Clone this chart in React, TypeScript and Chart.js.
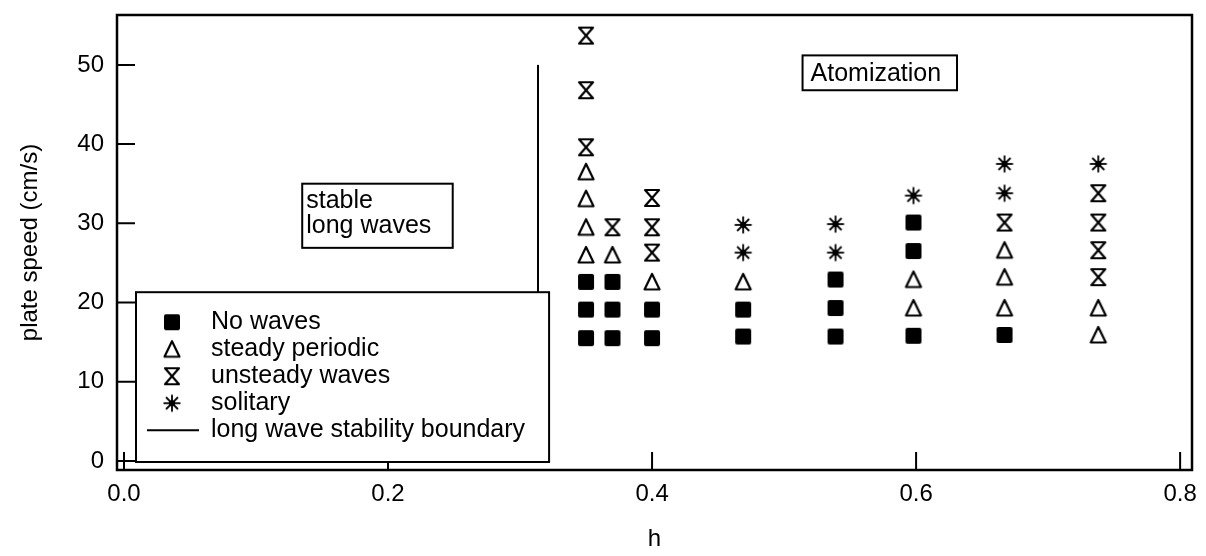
import React, { useEffect, useRef } from "react";
import { Chart, registerables } from "chart.js";

Chart.register(...registerables);

// ---- data (h, plate speed in cm/s) ----
const noWavesH = [0.35, 0.35, 0.35, 0.37, 0.37, 0.37, 0.4, 0.4, 0.469, 0.469, 0.539, 0.539, 0.539, 0.598, 0.598, 0.598, 0.667];
const noWavesSpeed = [15.5, 19.1, 22.6, 15.5, 19.1, 22.6, 15.5, 19.1, 15.7, 19.1, 15.7, 19.3, 22.9, 15.8, 26.5, 30.1, 15.9];

const steadyH = [0.35, 0.35, 0.35, 0.35, 0.37, 0.4, 0.469, 0.598, 0.598, 0.667, 0.667, 0.667, 0.738, 0.738];
const steadySpeed = [26.0, 29.5, 33.1, 36.5, 26.0, 22.6, 22.6, 19.3, 22.9, 19.3, 23.2, 26.6, 15.9, 19.3];

const unsteadyH = [0.35, 0.35, 0.35, 0.37, 0.4, 0.4, 0.4, 0.667, 0.738, 0.738, 0.738, 0.738];
const unsteadySpeed = [39.6, 46.8, 53.7, 29.5, 26.3, 29.5, 33.2, 30.1, 23.2, 26.6, 30.1, 33.8];

const solitaryH = [0.469, 0.469, 0.539, 0.539, 0.598, 0.667, 0.667, 0.738];
const solitarySpeed = [26.3, 29.8, 26.3, 29.9, 33.5, 33.8, 37.5, 37.5];

const boundaryH = [0.3136, 0.3136];
const boundarySpeed = [21.3, 50.0];

const seriesLabels = ["No waves", "steady periodic", "unsteady waves", "solitary", "long wave stability boundary"];
const xTickValues = [0, 0.2, 0.4, 0.6, 0.8];
const yTickValues = [0, 10, 20, 30, 40, 50];
const xTitle = "h";
const yTitle = "plate speed (cm/s)";
const noteStable = ["stable", "long waves"];
const noteAtom = ["Atomization"];

const FONT = "'Liberation Sans', Arial, Helvetica, sans-serif";

function makeMarker(kind: string): HTMLCanvasElement {
  const c = document.createElement("canvas");
  c.width = 24;
  c.height = 24;
  const g = c.getContext("2d") as CanvasRenderingContext2D;
  g.strokeStyle = "#000";
  g.fillStyle = "#000";
  const cx = 12, cy = 12;
  if (kind === "square") {
    g.beginPath();
    if ((g as any).roundRect) (g as any).roundRect(cx - 8, cy - 8, 16, 16, 2);
    else g.rect(cx - 8, cy - 8, 16, 16);
    g.fill();
  } else if (kind === "triangle") {
    g.lineWidth = 2.2;
    g.lineJoin = "round";
    g.beginPath();
    g.moveTo(cx, cy - 8);
    g.lineTo(cx + 7.5, cy + 7.5);
    g.lineTo(cx - 7.5, cy + 7.5);
    g.closePath();
    g.stroke();
  } else if (kind === "hourglass") {
    g.lineWidth = 2.2;
    g.lineJoin = "round";
    g.beginPath();
    g.moveTo(cx - 7, cy - 8);
    g.lineTo(cx + 7, cy - 8);
    g.lineTo(cx - 7, cy + 8);
    g.lineTo(cx + 7, cy + 8);
    g.closePath();
    g.stroke();
  } else if (kind === "asterisk") {
    g.lineWidth = 1.8;
    for (let i = 0; i < 4; i++) {
      const a = (i * Math.PI) / 4;
      g.beginPath();
      g.moveTo(cx - 8.5 * Math.cos(a), cy - 8.5 * Math.sin(a));
      g.lineTo(cx + 8.5 * Math.cos(a), cy + 8.5 * Math.sin(a));
      g.stroke();
    }
    g.beginPath();
    g.arc(cx, cy, 3.2, 0, Math.PI * 2);
    g.fill();
  }
  return c;
}

const pts = (xs: number[], ys: number[]) => xs.map((x, i) => ({ x, y: ys[i] }));

export default function App() {
  const ref = useRef<HTMLCanvasElement | null>(null);

  useEffect(() => {
    if (!ref.current) return;
    const markers = {
      square: makeMarker("square"),
      triangle: makeMarker("triangle"),
      hourglass: makeMarker("hourglass"),
      asterisk: makeMarker("asterisk"),
    };

    const decor = {
      id: "decor",
      afterDatasetsDraw(chart: any) {
        const { ctx, chartArea: a, scales } = chart;
        const xs = scales.x, ys = scales.y;
        ctx.save();
        ctx.strokeStyle = "#000";
        // inward ticks
        ctx.lineWidth = 2;
        ctx.beginPath();
        yTickValues.forEach((v) => {
          const py = ys.getPixelForValue(v);
          ctx.moveTo(a.left, py);
          ctx.lineTo(a.left + 18, py);
        });
        xTickValues.forEach((v) => {
          const px = xs.getPixelForValue(v);
          ctx.moveTo(px, a.bottom);
          ctx.lineTo(px, a.bottom - 18);
        });
        ctx.stroke();
        // frame
        ctx.lineWidth = 2.5;
        ctx.strokeRect(a.left, a.top, a.right - a.left, a.bottom - a.top);

        // note boxes
        const box = (x0: number, y0: number, x1: number, y1: number) => {
          ctx.fillStyle = "#fff";
          ctx.fillRect(x0, y0, x1 - x0, y1 - y0);
          ctx.lineWidth = 2;
          ctx.strokeRect(x0, y0, x1 - x0, y1 - y0);
        };
        ctx.font = `25px ${FONT}`;
        ctx.textBaseline = "middle";
        ctx.textAlign = "left";

        // stable long waves
        {
          const x0 = xs.getPixelForValue(0.135), x1 = xs.getPixelForValue(0.249);
          const y0 = ys.getPixelForValue(35.0), y1 = ys.getPixelForValue(26.9);
          box(x0, y0, x1, y1);
          ctx.fillStyle = "#000";
          noteStable.forEach((t, i) => ctx.fillText(t, x0 + 4, y0 + 17 + i * 25));
        }
        // Atomization
        {
          const x0 = xs.getPixelForValue(0.514), x1 = xs.getPixelForValue(0.631);
          const y0 = ys.getPixelForValue(51.2), y1 = ys.getPixelForValue(46.8);
          box(x0, y0, x1, y1);
          ctx.fillStyle = "#000";
          ctx.fillText(noteAtom[0], x0 + 8, (y0 + y1) / 2 + 1);
        }

        // legend
        {
          const x0 = a.left + 19, x1 = xs.getPixelForValue(0.322);
          const y0 = ys.getPixelForValue(21.3), y1 = a.bottom - 8;
          box(x0, y0, x1, y1);
          const rowH = 27;
          const firstY = y0 + 30;
          chart.data.datasets.forEach((ds: any, i: number) => {
            const cy = firstY + i * rowH;
            ctx.fillStyle = "#000";
            if (ds.showLine) {
              ctx.lineWidth = 2;
              ctx.beginPath();
              ctx.moveTo(x0 + 11, cy);
              ctx.lineTo(x0 + 63, cy);
              ctx.stroke();
            } else {
              const img = ds.pointStyle as HTMLCanvasElement;
              ctx.drawImage(img, x0 + 36 - img.width / 2, cy - img.height / 2);
            }
            ctx.fillText(ds.label, x0 + 75, cy);
          });
        }
        ctx.restore();
      },
    };

    const tickFont = { family: FONT, size: 24 };
    const chart = new Chart(ref.current, {
      type: "scatter",
      data: {
        datasets: [
          { label: seriesLabels[0], data: pts(noWavesH, noWavesSpeed), pointStyle: markers.square as any, pointRadius: 8 },
          { label: seriesLabels[1], data: pts(steadyH, steadySpeed), pointStyle: markers.triangle as any, pointRadius: 8 },
          { label: seriesLabels[2], data: pts(unsteadyH, unsteadySpeed), pointStyle: markers.hourglass as any, pointRadius: 8 },
          { label: seriesLabels[3], data: pts(solitaryH, solitarySpeed), pointStyle: markers.asterisk as any, pointRadius: 8 },
          {
            label: seriesLabels[4],
            data: pts(boundaryH, boundarySpeed),
            showLine: true,
            borderColor: "#000",
            borderWidth: 2,
            pointRadius: 0,
          } as any,
        ],
      },
      options: {
        animation: false,
        responsive: false,
        layout: { padding: { top: 15, right: 14, left: 0, bottom: 0 } },
        plugins: { legend: { display: false }, tooltip: { enabled: false } },
        scales: {
          x: {
            type: "linear",
            min: -0.0053,
            max: 0.809,
            grid: { display: false, drawTicks: false },
            border: { display: false },
            afterBuildTicks: (s: any) => {
              s.ticks = xTickValues.map((v) => ({ value: v }));
            },
            afterFit: (s: any) => {
              s.height = 86;
              s.paddingLeft = 0;
              s.paddingRight = 0;
            },
            ticks: {
              font: tickFont,
              color: "#000",
              padding: 10,
              maxRotation: 0,
              autoSkip: false,
              callback: (v: any) => Number(v).toFixed(1),
            },
            title: { display: true, text: xTitle, color: "#000", font: tickFont, padding: { top: 0, bottom: 2 } },
          },
          y: {
            type: "linear",
            min: -1.15,
            max: 56.3,
            grid: { display: false, drawTicks: false },
            border: { display: false },
            afterBuildTicks: (s: any) => {
              s.ticks = yTickValues.map((v) => ({ value: v }));
            },
            afterFit: (s: any) => {
              s.width = 117;
              s.paddingTop = 0;
              s.paddingBottom = 0;
            },
            ticks: { font: tickFont, color: "#000", padding: 13, autoSkip: false },
            title: { display: true, text: yTitle, color: "#000", font: tickFont, padding: { top: 16, bottom: 0 } },
          },
        },
      },
      plugins: [decor],
    });
    return () => chart.destroy();
  }, []);

  return (
    <div style={{ position: "fixed", left: 0, top: 0, width: 1206, height: 556, background: "#fff" }}>
      <canvas ref={ref} width={1206} height={556} style={{ width: 1206, height: 556, display: "block" }} />
    </div>
  );
}
